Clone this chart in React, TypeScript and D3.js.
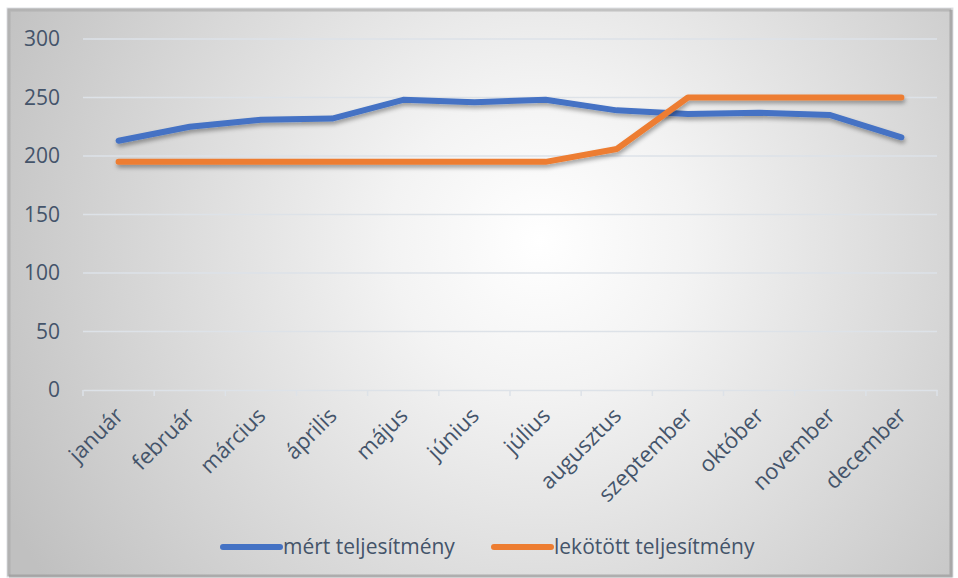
import React, { useEffect, useRef } from "react";
import * as d3 from "d3";

const months = ["január", "február", "március", "április", "május", "június", "július", "augusztus", "szeptember", "október", "november", "december"];
const measured = [213, 225, 231, 232, 248, 246, 248, 239, 236, 237, 235, 216];
const reserved = [195, 195, 195, 195, 195, 195, 195, 206, 250, 250, 250, 250];
const yTicks = [0, 50, 100, 150, 200, 250, 300];
const seriesNames = ["mért teljesítmény", "lekötött teljesítmény"];

export default function App() {
  const ref = useRef<SVGSVGElement>(null);

  useEffect(() => {
    const width = 958;
    const height = 578;
    const margin = { top: 39, right: 21, bottom: 188, left: 83 };
    const innerW = width - margin.left - margin.right;
    const innerH = height - margin.top - margin.bottom;
    const textColor = "#44546a";
    const font = "'Open Sans', sans-serif";
    const colors = ["#4472c4", "#ed7d31"];

    const svg = d3.select(ref.current);
    svg.selectAll("*").remove();

    const defs = svg.append("defs");
    const rg = defs.append("radialGradient")
      .attr("id", "bg")
      .attr("gradientUnits", "userSpaceOnUse")
      .attr("cx", 540).attr("cy", 240).attr("r", 600);
    rg.append("stop").attr("offset", "0").attr("stop-color", "#ffffff");
    rg.append("stop").attr("offset", "0.25").attr("stop-color", "#f3f3f3");
    rg.append("stop").attr("offset", "1").attr("stop-color", "#c0c0c0");

    const shadow = defs.append("filter").attr("id", "shadow")
      .attr("x", "-10%").attr("y", "-50%").attr("width", "120%").attr("height", "200%");
    shadow.append("feDropShadow")
      .attr("dx", 1).attr("dy", 3).attr("stdDeviation", 2)
      .attr("flood-color", "#000").attr("flood-opacity", 0.35);

    // frame with bevel
    svg.append("rect")
      .attr("x", 7).attr("y", 8).attr("width", 946).attr("height", 569)
      .attr("fill", "url(#bg)")
      .attr("stroke", "#dfe2e6").attr("stroke-width", 1);
    svg.append("path")
      .attr("d", "M9,576 L9,10 L951,10")
      .attr("fill", "none").attr("stroke", "#a8a8a8").attr("stroke-width", 3).attr("opacity", 0.6);
    svg.append("path")
      .attr("d", "M951,10 L951,576 L9,576")
      .attr("fill", "none").attr("stroke", "#9a9a9a").attr("stroke-width", 3).attr("opacity", 0.7);

    const g = svg.append("g").attr("transform", `translate(${margin.left},${margin.top})`);

    const x = d3.scaleBand<string>().domain(months).range([0, innerW]);
    const y = d3.scaleLinear().domain([0, 300]).range([innerH, 0]);

    // gridlines
    g.selectAll(".grid")
      .data(yTicks.filter((t) => t > 0))
      .enter()
      .append("line")
      .attr("x1", 0).attr("x2", innerW)
      .attr("y1", (d) => y(d)).attr("y2", (d) => y(d))
      .attr("stroke", "#dde2e8").attr("stroke-width", 1.5);

    // y labels
    g.selectAll(".ylab")
      .data(yTicks)
      .enter()
      .append("text")
      .attr("x", -23)
      .attr("y", (d) => y(d))
      .attr("dy", "0.35em")
      .attr("text-anchor", "end")
      .style("font-family", font)
      .style("font-size", "21px")
      .attr("fill", textColor)
      .text((d) => d);

    // x axis
    const xAxis = g.append("g")
      .attr("transform", `translate(0,${innerH})`)
      .call(d3.axisBottom(x).tickSize(0).tickFormat(() => ""));
    xAxis.select(".domain").attr("stroke", "#dde2e8").attr("stroke-width", 1.5);
    const bounds = months.map((m) => x(m) as number).concat([innerW]);
    xAxis.selectAll(".bound")
      .data(bounds)
      .enter()
      .append("line")
      .attr("x1", (d) => d).attr("x2", (d) => d)
      .attr("y1", 0).attr("y2", 6)
      .attr("stroke", "#dde2e8").attr("stroke-width", 1.5);

    g.selectAll(".xlab")
      .data(months)
      .enter()
      .append("text")
      .attr("transform", (d) => `translate(${(x(d) as number) + x.bandwidth() / 2 + 6},${innerH + 27}) rotate(-45)`)
      .attr("text-anchor", "end")
      .style("font-family", font)
      .style("font-size", "22px")
      .attr("fill", textColor)
      .text((d) => d);

    const line = d3.line<number>()
      .x((_, i) => (x(months[i]) as number) + x.bandwidth() / 2)
      .y((d) => y(d));

    [measured, reserved].forEach((s, i) => {
      g.append("path")
        .datum(s)
        .attr("d", line)
        .attr("fill", "none")
        .attr("stroke", colors[i])
        .attr("stroke-width", 6)
        .attr("stroke-linecap", "round")
        .attr("stroke-linejoin", "round")
        .attr("filter", "url(#shadow)");
    });

    // legend
    const legendPos = [223, 494];
    const legend = svg.append("g").attr("transform", "translate(0,547)");
    seriesNames.forEach((name, i) => {
      legend.append("line")
        .attr("x1", legendPos[i]).attr("x2", legendPos[i] + 57)
        .attr("y1", 0).attr("y2", 0)
        .attr("stroke", colors[i]).attr("stroke-width", 6)
        .attr("stroke-linecap", "round");
      legend.append("text")
        .attr("x", legendPos[i] + 60)
        .attr("y", 0)
        .attr("dy", "0.35em")
        .style("font-family", font)
        .style("font-size", "21px")
        .attr("fill", textColor)
        .text(name);
    });
  }, []);

  return (
    <svg ref={ref} width={958} height={578} style={{ position: "absolute", left: 0, top: 0 }} />
  );
}
